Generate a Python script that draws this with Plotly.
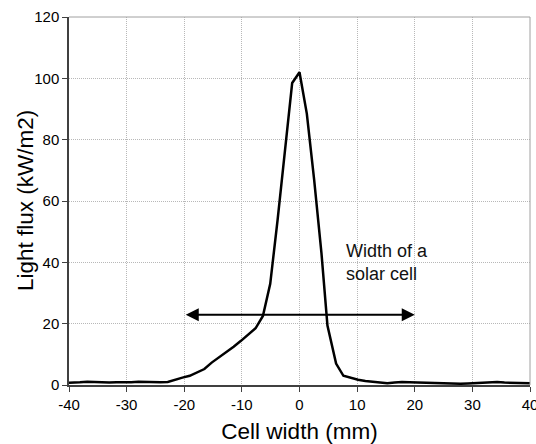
import plotly.graph_objects as go

# Data
cell_width_mm = [-40, -39.37, -38.1, -36.83, -35.56, -34.29, -33.02, -31.75, -30.48, -29.21,
                 -27.94, -26.67, -25.4, -24.13, -22.86, -21.59, -20.32, -19.05, -17.78, -16.51,
                 -15.24, -13.97, -12.7, -11.43, -10.16, -8.89, -7.62, -6.35, -5.08, -3.81,
                 -2.54, -1.27, 0, 1.27, 2.54, 3.81, 4.85, 6.35, 7.62, 8.89,
                 10.16, 11.43, 12.7, 13.97, 15.24, 16.51, 17.78, 19.05, 20.32, 21.59,
                 22.86, 24.13, 25.4, 26.67, 27.94, 29.21, 30.48, 31.75, 33.02, 34.29,
                 35.56, 36.83, 38.1, 39.37, 40]
light_flux = [0.7, 0.7, 0.9, 1.1, 1.0, 0.8, 0.8, 0.9, 0.8, 0.9,
              1.1, 1.0, 0.9, 0.9, 1.0, 1.8, 2.4, 3.0, 4.0, 5.2,
              7.3, 9.0, 10.6, 12.5, 14.4, 16.4, 18.5, 22.5, 33.0, 53.7,
              76.0, 98.5, 102.0, 88.5, 67.0, 43.0, 19.4, 7.0, 3.0, 2.3,
              1.7, 1.3, 1.0, 0.8, 0.6, 0.8, 1.0, 0.9, 0.8, 0.8,
              0.7, 0.7, 0.6, 0.5, 0.4, 0.5, 0.6, 0.7, 0.9, 1.0,
              0.8, 0.7, 0.6, 0.6, 0.6]

arrow_from = -20
arrow_to = 20
arrow_level = 22.9

x_ticks = [-40, -30, -20, -10, 0, 10, 20, 30, 40]
y_ticks = [0, 20, 40, 60, 80, 100, 120]

FONT = "Liberation Sans, Arial, sans-serif"

fig = go.Figure()
fig.add_trace(go.Scatter(x=cell_width_mm, y=light_flux, mode="lines",
                         line=dict(color="black", width=2.5), showlegend=False,
                         hoverinfo="skip"))

fig.add_annotation(x=arrow_to, y=arrow_level, ax=arrow_from, ay=arrow_level,
                   xref="x", yref="y", axref="x", ayref="y", text="",
                   showarrow=True, arrowside="end+start", arrowhead=2, startarrowhead=2,
                   arrowsize=1.3, startarrowsize=1.3, arrowwidth=2, arrowcolor="black",
                   standoff=0, startstandoff=0)
fig.add_annotation(x=7.8, y=40, xref="x", yref="y", text="Width of a<br>solar cell",
                   showarrow=False, xanchor="left", yanchor="middle", align="left",
                   font=dict(family=FONT, size=18, color="#111111"))

# y-axis title placed as a rotated label (overlaps tick-label column as in the reference)
fig.add_annotation(x=(25 - 69) / (536 - 69 - 6), y=0.5, xref="paper", yref="paper",
                   text="Light flux (kW/m2)",
                   showarrow=False, textangle=-90, xanchor="center", yanchor="middle",
                   font=dict(family=FONT, size=22.5, color="black"))

# top and right border (gray)
fig.add_shape(type="line", xref="paper", yref="paper", x0=0, x1=1, y0=1, y1=1,
              line=dict(color="#a0a0a0", width=1))
fig.add_shape(type="line", xref="paper", yref="paper", x0=1, x1=1, y0=0, y1=1,
              line=dict(color="#a0a0a0", width=1))

fig.update_layout(
    width=536, height=444,
    margin=dict(l=69, r=6, t=17, b=59, autoexpand=False),
    paper_bgcolor="white", plot_bgcolor="white",
    font=dict(family=FONT, color="black"),
    xaxis=dict(range=[-40, 40], tickvals=x_ticks, ticktext=[str(v) for v in x_ticks],
               showgrid=True, gridcolor="#b8b8b8", griddash="1px,1px", gridwidth=1,
               zeroline=False, showline=True, linecolor="#404040", linewidth=1.5,
               ticks="outside", ticklen=5, tickcolor="#404040", tickwidth=1,
               ticklabeloverflow="allow",
               tickfont=dict(size=15, family=FONT, color="black"),
               title=dict(text="Cell width (mm)", font=dict(size=22.5, family=FONT, color="black"),
                          standoff=12),
               automargin=False),
    yaxis=dict(range=[0, 120], tickvals=y_ticks, ticktext=[str(v) for v in y_ticks],
               showgrid=True, gridcolor="#b8b8b8", griddash="1px,1px", gridwidth=1,
               zeroline=False, showline=True, linecolor="#404040", linewidth=1.5,
               ticks="outside", ticklen=5, tickcolor="#404040", tickwidth=1,
               ticklabeloverflow="allow",
               tickfont=dict(size=15, family=FONT, color="black"),
               automargin=False),
)

fig.write_html("out.html")
